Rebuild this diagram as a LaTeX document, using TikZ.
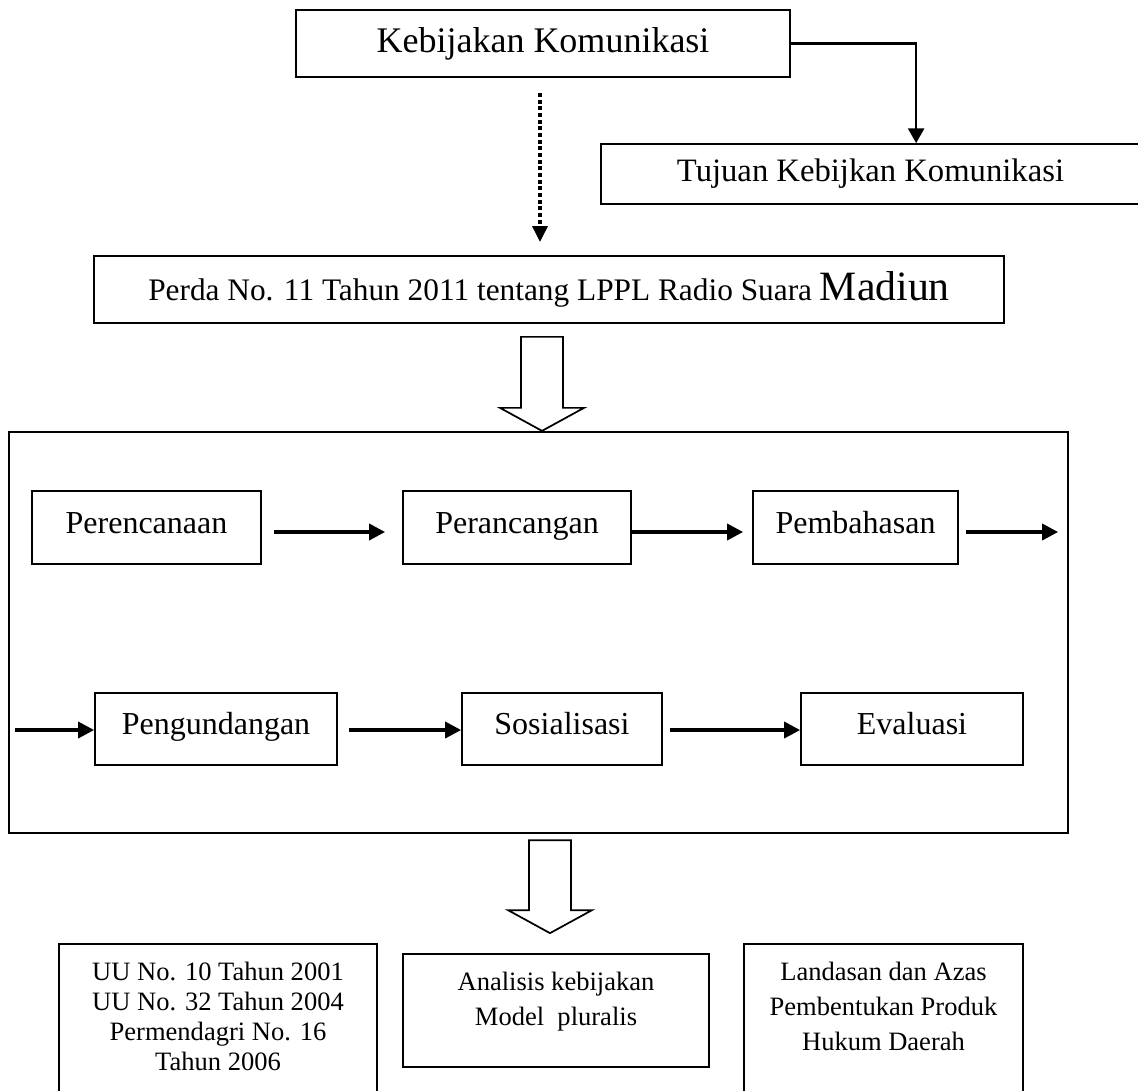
\documentclass[tikz,border=0pt]{standalone}
\usepackage{fontspec}
\setmainfont{Liberation Serif}
\usetikzlibrary{arrows.meta, positioning, calc}
\newcommand{\pxu}{0.75pt}

\begin{document}
\begin{tikzpicture}[
    x=0.75pt, y=-0.75pt,
    >={Triangle[length=12pt, width=12pt]},
    box/.style 2 args={
      draw,
      line width=1.3pt,
      align=center,
      inner sep=0pt,
      minimum width=#1*\pxu,
      minimum height=#2*\pxu
    },
    steptext/.style={font=\fontsize{24}{28}\selectfont, text height=17pt, text depth=8.5pt},
    basetext/.style={
      font=\fontsize{19.9}{26.25}\selectfont,
      anchor=north,
      align=center,
      inner sep=0pt,
      yshift=-14pt
    },
    flow/.style={->, line width=2.6pt},
    elbow/.style={-{Triangle[length=11pt, width=12pt]}, line width=1.6pt},
    dotflow/.style={-{Triangle[length=12pt, width=11pt]}, line width=3pt,
      dash pattern=on 3pt off 2pt},
    hollow/.style={draw, line width=1.3pt, fill=white, line join=miter}
]
\useasboundingbox (0,0) rectangle (1138,1090);

% 1) Kebijakan and its aim
\node[box={494}{67}, font=\fontsize{27}{30}\selectfont] (kebijakan) at (543,43.5)
  {Kebijakan Komunikasi};
\node[box={539}{60}, font=\fontsize{24.5}{28}\selectfont] (tujuan) at (870.5,174)
  {Tujuan Kebijkan Komunikasi};

% 2) Perda
\node[box={910}{67}, font=\fontsize{23.5}{28}\selectfont] (perda) at (549,289.5)
  {Perda No. 11 Tahun 2011 tentang LPPL Radio Suara {\fontsize{31.3}{34}\selectfont Madiun}};

% 3) Big frame with the stages
\node[draw, line width=1.7pt, minimum width=1059*\pxu, minimum height=401*\pxu]
  (proses) at (538.5,632.5) {};

\node[box={229}{73}, steptext] (rencana) at (146.5,527.5) {Perencanaan};
\node[box={228}{73}, steptext] (rancang) at (517,527.5) {Perancangan};
\node[box={205}{73}, steptext] (bahas) at (855.5,527.5) {Pembahasan};

\node[box={242}{72}, steptext] (undang) at (216,729) {Pengundangan};
\node[box={200}{72}, steptext] (sosial) at (562,729) {Sosialisasi};
\node[box={222}{72}, steptext] (evaluasi) at (912,729) {Evaluasi};

% 4) Bottom boxes
\node[box={318}{148},
  label={[basetext, font=\fontsize{19.9}{22.5}\selectfont]north:UU No. 10 Tahun 2001\\UU No. 32 Tahun 2004\\Permendagri No. 16\\Tahun 2006}]
  (uu) at (218,1018) {};
\node[box={306}{113},
  label={[basetext]north:Analisis kebijakan\\Model~~pluralis}]
  (analisis) at (556,1010.5) {};
\node[box={279}{148},
  label={[basetext]north:Landasan dan Azas\\Pembentukan Produk\\Hukum Daerah}]
  (landasan) at (883.5,1018) {};

% ARROWS
% kebijakan -> tujuan
\draw[elbow] (kebijakan.east) -| ($(tujuan.north west)+(316,0)$);

% kebijakan -> perda (dotted)
\draw[dotflow] ($(kebijakan.south)+(-3,15)$) -- ($(kebijakan.south |- perda.north)+(-3,-13)$);

% perda -> frame (block arrow)
\coordinate (tipA) at ($(proses.north)+(3.5,0)$);
\draw[hollow] (tipA) -- ++(-42,-23) -- ++(21,0) -- ++(0,-71) -- ++(42,0)
  -- ++(0,71) -- ++(21,0) -- cycle;

% first row
\draw[flow] ($(rencana.east)+(12,4.5)$) -- ($(rancang.west)+(-17,4.5)$);
\draw[flow] ($(rancang.east)+(0,4.5)$) -- ($(bahas.west)+(-9,4.5)$);
\draw[flow] ($(bahas.east)+(7,4.5)$) -- ($(proses.east |- bahas.east)+(-11,4.5)$);

% second row
\coordinate (masuk) at ($(proses.west |- undang.west)+(7,1)$);
\draw[flow] (masuk) -- ($(undang.west)+(0,1)$);
\draw[flow] ($(undang.east)+(11,1)$) -- ($(sosial.west)+(0,1)$);
\draw[flow] ($(sosial.east)+(7,1)$) -- ($(evaluasi.west)+(0,1)$);

% frame -> analisis (block arrow)
\coordinate (tipB) at ($(analisis.north)+(-6,-20)$);
\draw[hollow] (tipB) -- ++(-42,-23) -- ++(21,0) -- ++(0,-70) -- ++(42,0)
  -- ++(0,70) -- ++(21,0) -- cycle;

\end{tikzpicture}
\end{document}
